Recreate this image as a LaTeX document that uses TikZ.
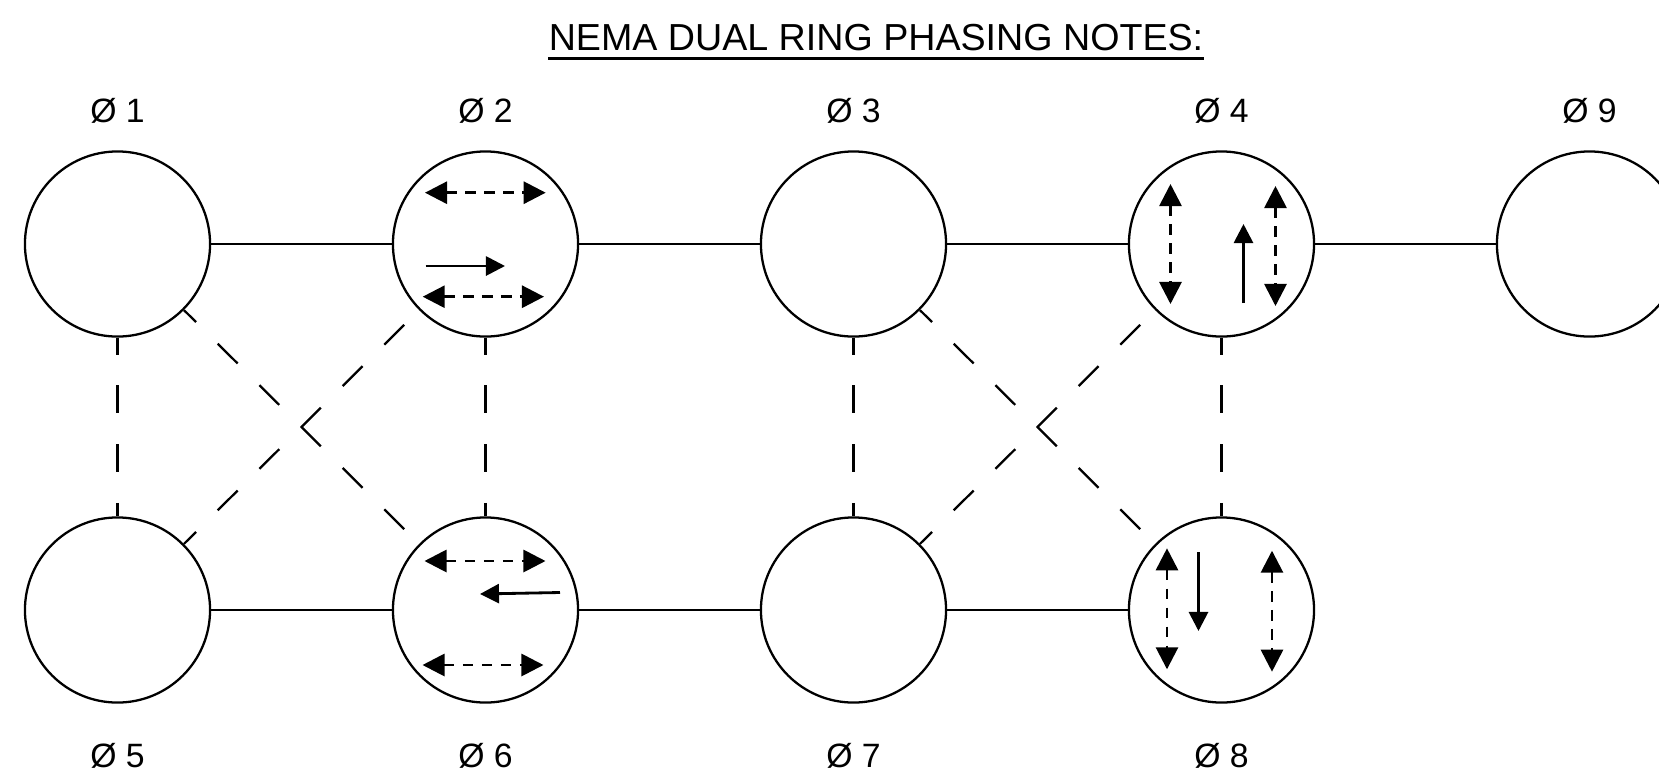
\documentclass[tikz,border=0pt]{standalone}
\usepackage{fontspec}
\setmainfont{Liberation Sans}
\usetikzlibrary{arrows.meta}

\begin{document}
\begin{tikzpicture}[
  x=0.01cm, y=-0.01cm,
  ring/.style={draw, circle, line width=0.65pt, minimum size=1.85cm, inner sep=0pt},
  lbl/.style={anchor=base, inner sep=0pt, font=\fontsize{9.6}{11}\selectfont},
  link/.style={line width=0.65pt},
  barrier/.style={line width=0.65pt, dash pattern=on 7.97pt off 8.73pt, dash phase=3.13pt},
  dbl/.style={{Triangle[length=0.22cm, width=0.22cm]}-{Triangle[length=0.22cm, width=0.22cm]},
              line width=0.8pt, dash pattern=on 3pt off 2.4pt},
  sgl/.style={-{Triangle[length=0.19cm, width=0.19cm]}, line width=0.8pt},
]
\useasboundingbox (0,0) rectangle (1659,772);

% ---- Title ----
\node[anchor=base, inner sep=0pt, font=\fontsize{10.7}{12}\selectfont] (title) at (876,50)
  {NEMA DUAL RING PHASING NOTES:};
\draw[link] ([yshift=-2.4pt]title.base west) -- ([yshift=-2.4pt]title.base east);

% ---- Ring 1 (top) ----
\foreach \n/\x in {1/117.5, 2/485.5, 3/853.5, 4/1221.5, 9/1589.5} {
  \node[ring] (c\n) at (\x,244) {};
  \node[lbl] (l\n) at (\x,122) {Ø \n};
}

% ---- Ring 2 (bottom) ----
\foreach \n/\x in {5/117.5, 6/485.5, 7/853.5, 8/1221.5} {
  \node[ring] (c\n) at (\x,610) {};
  \node[lbl] (l\n) at (\x,767) {Ø \n};
}

% Ring sequences
\foreach \a/\b in {c1/c2, c2/c3, c3/c4, c4/c9, c5/c6, c6/c7, c7/c8}
  \draw[link] (\a) -- (\b);

% Barrier links
\foreach \a/\b in {c1/c5, c2/c6, c3/c7, c4/c8}
  \draw[barrier] (\a) -- (\b);
\foreach \a/\b in {c1/c6, c5/c2, c3/c8, c7/c4}
  \draw[barrier] (\a) -- (\b);

% ---- Movements inside phases ----
\begin{scope}[shift={(c2)}]
  \draw[dbl] (-60.5,-51.3) -- (60.2,-51.3);
  \draw[sgl] (-59.8,22) -- (19.5,22);
  \draw[dbl] (-62.8,52.7) -- (58.5,52.7);
\end{scope}
\begin{scope}[shift={(c6)}]
  \draw[dbl] (-61,-49) -- (60,-49);
  \draw[sgl] (74.5,-17.5) -- (-5.5,-16);
  \draw[dbl] (-63,55) -- (58,55);
\end{scope}
\begin{scope}[shift={(c4)}]
  \draw[dbl] (-51,-60) -- (-51,60);
  \draw[sgl] (22,59) -- (22,-20);
  \draw[dbl] (54,-58) -- (54,62);
\end{scope}
\begin{scope}[shift={(c8)}]
  \draw[dbl] (-54.5,-61.7) -- (-54.5,59.3);
  \draw[sgl] (-23,-58) -- (-23,21);
  \draw[dbl] (50.5,-59.3) -- (50.5,61.7);
\end{scope}
\end{tikzpicture}
\end{document}
